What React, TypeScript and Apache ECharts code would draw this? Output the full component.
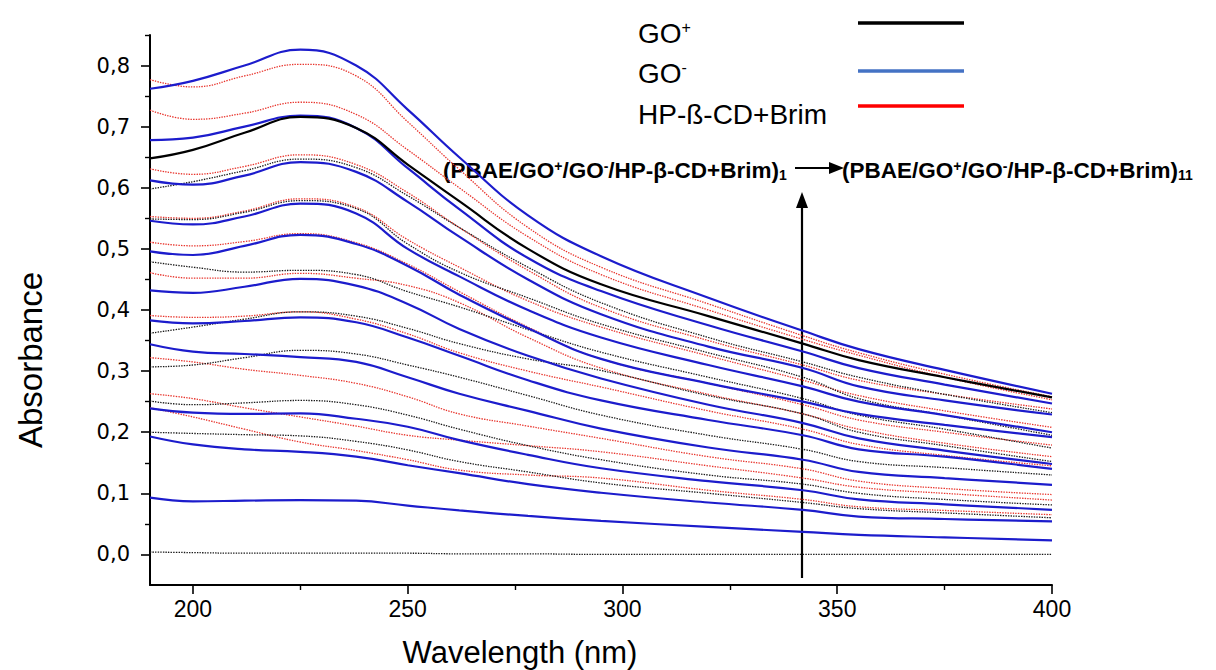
import React, { useEffect, useRef } from "react";
import * as echarts from "echarts";

// Wavelength sampling points (nm)
const wavelengths = [190, 200, 212, 225, 238, 250, 262, 278, 295, 320, 342, 355, 375, 400];

// GO- layers (blue, solid)
const goMinus1 = [0.762, 0.775, 0.8, 0.826, 0.8, 0.728, 0.65, 0.555, 0.488, 0.42, 0.366, 0.336, 0.302, 0.263];
const goMinus2 = [0.678, 0.682, 0.7, 0.718, 0.698, 0.632, 0.565, 0.485, 0.431, 0.375, 0.332, 0.305, 0.278, 0.247];
const goMinus3 = [0.612, 0.605, 0.62, 0.642, 0.626, 0.577, 0.52, 0.45, 0.393, 0.34, 0.305, 0.275, 0.252, 0.229];
const goMinus4 = [0.546, 0.54, 0.553, 0.574, 0.558, 0.5, 0.455, 0.4, 0.355, 0.31, 0.275, 0.25, 0.228, 0.2];
const goMinus5 = [0.496, 0.49, 0.505, 0.523, 0.508, 0.472, 0.425, 0.37, 0.32, 0.28, 0.25, 0.23, 0.212, 0.192];
const goMinus6 = [0.432, 0.428, 0.438, 0.451, 0.44, 0.41, 0.369, 0.325, 0.288, 0.245, 0.215, 0.19, 0.17, 0.148];
const goMinus7 = [0.383, 0.378, 0.382, 0.388, 0.38, 0.355, 0.325, 0.285, 0.252, 0.22, 0.195, 0.172, 0.16, 0.14];
const goMinus8 = [0.344, 0.332, 0.328, 0.323, 0.315, 0.29, 0.263, 0.235, 0.206, 0.175, 0.155, 0.135, 0.125, 0.114];
const goMinus9 = [0.239, 0.232, 0.23, 0.231, 0.222, 0.209, 0.187, 0.163, 0.141, 0.12, 0.105, 0.09, 0.082, 0.073];
const goMinus10 = [0.193, 0.18, 0.172, 0.168, 0.16, 0.146, 0.133, 0.115, 0.101, 0.085, 0.073, 0.062, 0.058, 0.054];
const goMinus11 = [0.093, 0.087, 0.088, 0.089, 0.088, 0.08, 0.072, 0.063, 0.055, 0.045, 0.037, 0.032, 0.028, 0.023];

// GO+ layers (black): one solid, the others dotted
const goPlusSolid = [0.648, 0.662, 0.69, 0.716, 0.698, 0.638, 0.578, 0.5, 0.442, 0.39, 0.345, 0.318, 0.29, 0.257];
const goPlus1 = [0.598, 0.61, 0.628, 0.647, 0.633, 0.587, 0.535, 0.47, 0.412, 0.355, 0.315, 0.29, 0.262, 0.232];
const goPlus2 = [0.549, 0.548, 0.56, 0.579, 0.566, 0.508, 0.462, 0.42, 0.377, 0.33, 0.29, 0.255, 0.228, 0.195];
const goPlus3 = [0.479, 0.47, 0.462, 0.465, 0.458, 0.43, 0.405, 0.368, 0.331, 0.29, 0.255, 0.228, 0.205, 0.174];
const goPlus4 = [0.362, 0.372, 0.385, 0.397, 0.39, 0.37, 0.345, 0.32, 0.301, 0.26, 0.23, 0.2, 0.178, 0.152];
const goPlus5 = [0.307, 0.31, 0.322, 0.334, 0.328, 0.31, 0.29, 0.26, 0.228, 0.195, 0.172, 0.152, 0.142, 0.13];
const goPlus6 = [0.251, 0.245, 0.248, 0.252, 0.245, 0.228, 0.205, 0.178, 0.155, 0.13, 0.115, 0.1, 0.09, 0.081];
const goPlus7 = [0.2, 0.198, 0.196, 0.194, 0.185, 0.171, 0.152, 0.135, 0.117, 0.1, 0.085, 0.075, 0.068, 0.06];
const goPlus8 = [0.004, 0.003, 0.002, 0.002, 0.002, 0.002, 0.001, 0.001, 0.0, 0.0, 0.0, 0.0, 0.0, 0.0];

// HP-ß-CD+Brim layers (red, dotted)
const hp1 = [0.777, 0.765, 0.783, 0.802, 0.783, 0.708, 0.63, 0.535, 0.47, 0.41, 0.358, 0.33, 0.295, 0.258];
const hp2 = [0.727, 0.712, 0.722, 0.74, 0.72, 0.662, 0.6, 0.52, 0.458, 0.4, 0.352, 0.326, 0.29, 0.253];
const hp3 = [0.631, 0.622, 0.635, 0.654, 0.638, 0.592, 0.535, 0.465, 0.404, 0.35, 0.31, 0.285, 0.262, 0.238];
const hp4 = [0.553, 0.55, 0.562, 0.582, 0.568, 0.515, 0.47, 0.415, 0.372, 0.325, 0.285, 0.26, 0.235, 0.208];
const hp5 = [0.511, 0.505, 0.512, 0.525, 0.51, 0.475, 0.43, 0.372, 0.32, 0.28, 0.245, 0.22, 0.2, 0.179];
const hp6 = [0.461, 0.452, 0.452, 0.46, 0.452, 0.44, 0.412, 0.355, 0.305, 0.262, 0.23, 0.205, 0.182, 0.16];
const hp7 = [0.391, 0.388, 0.39, 0.397, 0.385, 0.361, 0.33, 0.3, 0.274, 0.235, 0.205, 0.18, 0.162, 0.145];
const hp8 = [0.322, 0.315, 0.303, 0.293, 0.28, 0.258, 0.23, 0.21, 0.19, 0.16, 0.14, 0.12, 0.108, 0.098];
const hp9 = [0.263, 0.255, 0.24, 0.225, 0.21, 0.195, 0.187, 0.178, 0.168, 0.145, 0.125, 0.11, 0.1, 0.089];
const hp10 = [0.24, 0.225, 0.205, 0.184, 0.17, 0.155, 0.138, 0.13, 0.125, 0.105, 0.09, 0.078, 0.072, 0.065];

const goMinusList = [goMinus1, goMinus2, goMinus3, goMinus4, goMinus5, goMinus6, goMinus7, goMinus8, goMinus9, goMinus10, goMinus11];
const goPlusList = [goPlus1, goPlus2, goPlus3, goPlus4, goPlus5, goPlus6, goPlus7, goPlus8];
const hpList = [hp1, hp2, hp3, hp4, hp5, hp6, hp7, hp8, hp9, hp10];

// Axis ticks
const xMajorTicks = [200, 250, 300, 350, 400];
const xMinorTicks = [225, 275, 325, 375];
const yMajorTicks = [0, 0.1, 0.2, 0.3, 0.4, 0.5, 0.6, 0.7, 0.8];
const yMinorTicks = [0.05, 0.15, 0.25, 0.35, 0.45, 0.55, 0.65, 0.75, 0.85];

const FONT = "'Liberation Sans', Arial, Helvetica, sans-serif";

const BLUE = "#1c1ccc";
const BLACK = "#1a1a1a";
const RED = "#e8342c";

function toData(vals: number[]) {
  return wavelengths.map((w, i) => [w, vals[i]]);
}

export default function App() {
  const ref = useRef<HTMLDivElement>(null);

  useEffect(() => {
    if (!ref.current) return;
    const chart = echarts.init(ref.current, undefined, { renderer: "svg" });

    const series: any[] = [];
    hpList.forEach((arr, i) => {
      series.push({
        name: "hp" + i,
        type: "line",
        data: toData(arr),
        showSymbol: false,
        smooth: 0.45,
        silent: true,
        z: 2,
        lineStyle: { color: RED, width: 1.3, type: [1.4, 1.2] },
      });
    });
    goPlusList.forEach((arr, i) => {
      series.push({
        name: "gop" + i,
        type: "line",
        data: toData(arr),
        showSymbol: false,
        smooth: 0.45,
        silent: true,
        z: 3,
        lineStyle: { color: BLACK, width: 1.3, type: [1.4, 1.2] },
      });
    });
    goMinusList.forEach((arr, i) => {
      series.push({
        name: "gom" + i,
        type: "line",
        data: toData(arr),
        showSymbol: false,
        smooth: 0.45,
        silent: true,
        z: 4,
        lineStyle: { color: BLUE, width: 2.2, type: "solid" },
      });
    });
    series.push({
      name: "gopSolid",
      type: "line",
      data: toData(goPlusSolid),
      showSymbol: false,
      smooth: 0.45,
      silent: true,
      z: 5,
      lineStyle: { color: "#000", width: 2.2, type: "solid" },
    });

    const supRich = {
      n: { fontSize: 28, fontFamily: FONT, color: "#000" },
      s: { fontSize: 16, fontFamily: FONT, color: "#000", verticalAlign: "top" },
    };
    const annRich = {
      n: { fontSize: 22.5, fontWeight: "bold", fontFamily: FONT, color: "#000" },
      s: { fontSize: 14, fontWeight: "bold", fontFamily: FONT, color: "#000", verticalAlign: "top" },
      b: { fontSize: 14, fontWeight: "bold", fontFamily: FONT, color: "#000", verticalAlign: "bottom" },
    };

    const option: any = {
      animation: false,
      backgroundColor: "#fff",
      textStyle: { fontFamily: FONT },
      grid: { left: 150, right: 164, top: 35, bottom: 85, containLabel: false },
      xAxis: [
        {
          type: "value",
          min: 190,
          max: 400,
          interval: 10,
          axisLine: { show: true, onZero: false, lineStyle: { color: "#000", width: 2 } },
          axisTick: { show: true, length: 9, customValues: xMajorTicks, lineStyle: { color: "#000", width: 1.6 } },
          axisLabel: {
            customValues: xMajorTicks,
            margin: 12,
            fontSize: 23,
            fontFamily: FONT,
            color: "#000",
          },
          splitLine: { show: false },
        },
        {
          type: "value",
          position: "bottom",
          min: 190,
          max: 400,
          interval: 10,
          axisLine: { show: false, onZero: false },
          axisTick: { show: true, length: 5, customValues: xMinorTicks, lineStyle: { color: "#000", width: 1.4 } },
          axisLabel: { show: false },
          splitLine: { show: false },
        },
      ],
      yAxis: [
        {
          type: "value",
          min: -0.05,
          max: 0.85,
          interval: 0.05,
          axisLine: { show: true, onZero: false, lineStyle: { color: "#000", width: 2 } },
          axisTick: { show: true, length: 9, customValues: yMajorTicks, lineStyle: { color: "#000", width: 1.6 } },
          axisLabel: {
            customValues: yMajorTicks,
            formatter: (v: number) => v.toFixed(1).replace(".", ","),
            margin: 20,
            fontSize: 21,
            fontFamily: "'DejaVu Sans', sans-serif",
            color: "#000",
          },
          splitLine: { show: false },
        },
        {
          type: "value",
          position: "left",
          min: -0.05,
          max: 0.85,
          interval: 0.05,
          axisLine: { show: false, onZero: false },
          axisTick: { show: true, length: 5, customValues: yMinorTicks, lineStyle: { color: "#000", width: 1.4 } },
          axisLabel: { show: false },
          splitLine: { show: false },
        },
      ],
      series,
      graphic: [
        // axis names
        {
          type: "text",
          x: 520,
          y: 652,
          style: { text: "Wavelength (nm)", fontSize: 31, fontFamily: FONT, fill: "#000", align: "center", verticalAlign: "middle" },
        },
        {
          type: "text",
          x: 30,
          y: 360,
          rotation: Math.PI / 2,
          style: { text: "Absorbance", fontSize: 33, fontFamily: FONT, fill: "#000", align: "center", verticalAlign: "middle" },
        },
        // legend
        {
          type: "text",
          x: 638,
          y: 33,
          style: { text: "{n|GO}{s|+}", rich: supRich, align: "left", verticalAlign: "middle" },
        },
        { type: "line", shape: { x1: 858, y1: 23, x2: 964, y2: 23 }, style: { stroke: "#000", lineWidth: 3.5 } },
        {
          type: "text",
          x: 638,
          y: 73,
          style: { text: "{n|GO}{s|-}", rich: supRich, align: "left", verticalAlign: "middle" },
        },
        { type: "line", shape: { x1: 858, y1: 71, x2: 964, y2: 71 }, style: { stroke: "#4472C4", lineWidth: 3.5 } },
        {
          type: "text",
          x: 638,
          y: 114,
          style: { text: "HP-ß-CD+Brim", fontSize: 28, fontFamily: FONT, fill: "#000", align: "left", verticalAlign: "middle" },
        },
        { type: "line", shape: { x1: 858, y1: 106, x2: 964, y2: 106 }, style: { stroke: "#ff0000", lineWidth: 3.5 } },
        // annotations
        {
          type: "text",
          x: 443,
          y: 170,
          style: {
            text: "{n|(PBAE/GO}{s|+}{n|/GO}{s|-}{n|/HP-β-CD+Brim)}{b|1}",
            rich: annRich,
            align: "left",
            verticalAlign: "middle",
          },
        },
        {
          type: "text",
          x: 842,
          y: 170,
          style: {
            text: "{n|(PBAE/GO}{s|+}{n|/GO}{s|-}{n|/HP-β-CD+Brim)}{b|11}",
            rich: annRich,
            align: "left",
            verticalAlign: "middle",
          },
        },
        { type: "line", shape: { x1: 795, y1: 168, x2: 831, y2: 168 }, style: { stroke: "#000", lineWidth: 2 } },
        { type: "polygon", shape: { points: [[829, 162], [844, 168], [829, 174]] }, style: { fill: "#000" } },
        { type: "line", shape: { x1: 802, y1: 578, x2: 802, y2: 206 }, style: { stroke: "#000", lineWidth: 2.2 } },
        { type: "polygon", shape: { points: [[796, 208], [802, 192], [808, 208]] }, style: { fill: "#000" } },
      ],
    };

    chart.setOption(option);
    return () => chart.dispose();
  }, []);

  return (
    <div
      ref={ref}
      style={{ position: "fixed", left: 0, top: 0, width: 1216, height: 670, background: "#fff" }}
    />
  );
}
